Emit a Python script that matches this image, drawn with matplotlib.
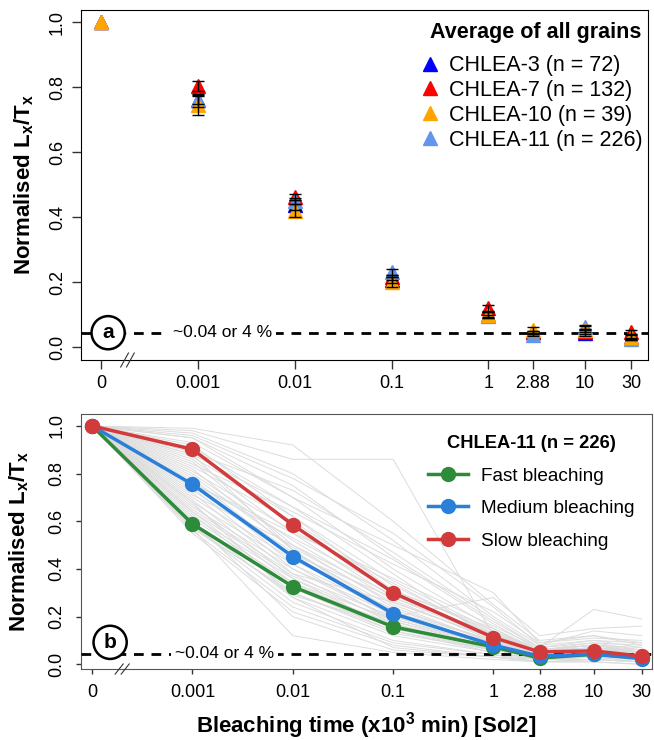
import numpy as np
import matplotlib
matplotlib.use("Agg")
import matplotlib.pyplot as plt
from matplotlib.lines import Line2D

plt.rcParams['font.family'] = ['Liberation Sans', 'DejaVu Sans']
plt.rcParams['mathtext.fontset'] = 'custom'
plt.rcParams['mathtext.rm'] = 'Liberation Sans'
plt.rcParams['mathtext.bf'] = 'Liberation Sans:bold'

# bleaching times (x10^3 min); 0 is drawn one decade left of 0.001
times = [0, 0.001, 0.01, 0.1, 1, 2.88, 10, 30]
time_labels = ['0', '0.001', '0.01', '0.1', '1', '2.88', '10', '30']

# panel a: average of all grains
chlea3 = [1.0, 0.760, 0.437, 0.206, 0.100, 0.045, 0.043, 0.030]
chlea7 = [1.0, 0.803, 0.462, 0.215, 0.120, 0.045, 0.050, 0.046]
chlea10 = [1.0, 0.745, 0.420, 0.200, 0.098, 0.052, 0.052, 0.031]
chlea11 = [1.0, 0.760, 0.450, 0.231, 0.095, 0.037, 0.062, 0.025]
err3 = [0, 0.020, 0.015, 0.010, 0.008, 0.005, 0.008, 0.006]
err7 = [0, 0.015, 0.010, 0.008, 0.010, 0.005, 0.005, 0.005]
err10 = [0, 0.030, 0.020, 0.015, 0.010, 0.010, 0.012, 0.010]
err11 = [0, 0.012, 0.010, 0.008, 0.005, 0.004, 0.006, 0.004]

# panel b: CHLEA-11 groups
fast = [1.0, 0.589, 0.326, 0.157, 0.073, 0.026, 0.042, 0.027]
medium = [1.0, 0.755, 0.452, 0.213, 0.080, 0.034, 0.042, 0.024]
slow = [1.0, 0.902, 0.585, 0.300, 0.112, 0.052, 0.056, 0.034]

grains = [
    [1, 0.99, 0.92, 0.60, 0.25, 0.10, 0.12, 0.08],
    [1, 0.98, 0.86, 0.86, 0.12, 0.06, 0.08, 0.05],
    [1, 0.97, 0.80, 0.52, 0.20, 0.08, 0.10, 0.07],
    [1, 0.95, 0.75, 0.45, 0.18, 0.07, 0.23, 0.19],
    [1, 0.93, 0.70, 0.40, 0.15, 0.05, 0.06, 0.05],
    [1, 0.92, 0.62, 0.35, 0.14, 0.06, 0.07, 0.04],
    [1, 0.90, 0.58, 0.30, 0.12, 0.05, 0.06, 0.04],
    [1, 0.88, 0.66, 0.38, 0.10, 0.04, 0.05, 0.03],
    [1, 0.86, 0.55, 0.28, 0.11, 0.05, 0.05, 0.04],
    [1, 0.85, 0.50, 0.25, 0.09, 0.04, 0.04, 0.03],
    [1, 0.83, 0.60, 0.33, 0.13, 0.06, 0.08, 0.06],
    [1, 0.82, 0.48, 0.22, 0.08, 0.03, 0.05, 0.03],
    [1, 0.80, 0.52, 0.27, 0.10, 0.04, 0.06, 0.05],
    [1, 0.78, 0.45, 0.20, 0.08, 0.04, 0.04, 0.02],
    [1, 0.77, 0.42, 0.18, 0.07, 0.03, 0.04, 0.03],
    [1, 0.75, 0.47, 0.24, 0.09, 0.05, 0.06, 0.04],
    [1, 0.74, 0.40, 0.19, 0.08, 0.03, 0.03, 0.02],
    [1, 0.72, 0.38, 0.17, 0.06, 0.02, 0.04, 0.02],
    [1, 0.70, 0.44, 0.23, 0.10, 0.05, 0.07, 0.05],
    [1, 0.69, 0.36, 0.15, 0.06, 0.03, 0.03, 0.02],
    [1, 0.67, 0.34, 0.16, 0.07, 0.03, 0.05, 0.03],
    [1, 0.66, 0.40, 0.21, 0.09, 0.04, 0.05, 0.04],
    [1, 0.64, 0.32, 0.14, 0.05, 0.02, 0.03, 0.02],
    [1, 0.63, 0.30, 0.13, 0.06, 0.03, 0.04, 0.03],
    [1, 0.62, 0.36, 0.18, 0.08, 0.04, 0.04, 0.03],
    [1, 0.60, 0.28, 0.12, 0.05, 0.02, 0.03, 0.01],
    [1, 0.59, 0.33, 0.17, 0.07, 0.03, 0.04, 0.03],
    [1, 0.58, 0.26, 0.10, 0.04, 0.02, 0.02, 0.01],
    [1, 0.57, 0.30, 0.14, 0.06, 0.03, 0.03, 0.02],
    [1, 0.56, 0.24, 0.09, 0.04, 0.01, 0.02, 0.01],
    [1, 0.55, 0.22, 0.08, 0.03, 0.01, 0.02, 0.01],
    [1, 0.60, 0.20, 0.06, 0.03, 0.01, 0.01, 0.00],
    [1, 0.57, 0.12, 0.05, 0.02, 0.01, 0.01, 0.00],
    [1, 0.68, 0.28, 0.07, 0.03, 0.02, 0.02, 0.01],
    [1, 0.88, 0.48, 0.20, 0.28, 0.12, 0.15, 0.16],
    [1, 0.95, 0.70, 0.50, 0.30, 0.09, 0.11, 0.10],
    [1, 0.76, 0.55, 0.36, 0.16, 0.07, 0.09, 0.06],
    [1, 0.84, 0.64, 0.42, 0.22, 0.09, 0.12, 0.09],
    [1, 0.71, 0.50, 0.29, 0.12, 0.05, 0.07, 0.06],
    [1, 0.65, 0.38, 0.26, 0.11, 0.06, 0.08, 0.07],
    [1, 0.91, 0.66, 0.44, 0.17, 0.06, 0.09, 0.08],
    [1, 0.87, 0.62, 0.31, 0.14, 0.05, 0.07, 0.05],
    [1, 0.81, 0.56, 0.34, 0.12, 0.06, 0.06, 0.04],
    [1, 0.79, 0.49, 0.26, 0.11, 0.04, 0.05, 0.04],
    [1, 0.73, 0.46, 0.28, 0.13, 0.05, 0.06, 0.05],
    [1, 0.68, 0.42, 0.22, 0.10, 0.04, 0.05, 0.03],
    [1, 0.64, 0.37, 0.20, 0.09, 0.03, 0.04, 0.03],
    [1, 0.61, 0.34, 0.19, 0.08, 0.03, 0.04, 0.02],
    [1, 0.58, 0.29, 0.16, 0.07, 0.02, 0.03, 0.02],
    [1, 0.96, 0.78, 0.55, 0.24, 0.08, 0.14, 0.12],
    [1, 0.89, 0.73, 0.47, 0.19, 0.07, 0.10, 0.09],
    [1, 0.76, 0.53, 0.31, 0.15, 0.06, 0.08, 0.05],
]

threshold = 0.044

# x positions: log10 of time, 0 sits at -4
xpos = np.array([-4.0] + [np.log10(t) for t in times[1:]])

fig = plt.figure(figsize=(6.54, 7.4), dpi=100)
ax1 = fig.add_axes([0.1239, 0.5135, 0.867, 0.473])
ax2 = fig.add_axes([0.1239, 0.0959, 0.873, 0.3446])


def style_axis(ax, ticklen, labelpad, fs):
    ax.set_xticks(xpos)
    ax.set_xticklabels(time_labels, fontsize=fs)
    ax.set_yticks([0, 0.2, 0.4, 0.6, 0.8, 1.0])
    ax.set_yticklabels(['0.0', '0.2', '0.4', '0.6', '0.8', '1.0'], rotation=90,
                       va='center', fontsize=fs)
    ax.tick_params(length=ticklen, width=1, pad=labelpad, color='#333333')
    ax.set_ylabel(r'Normalised L$_\mathbf{x}$/T$_\mathbf{x}$', fontsize=16,
                  fontweight='bold')


def break_mark(ax, x):
    for dx in (-0.03, 0.03):
        ax.plot([x + dx - 0.04, x + dx + 0.04], [-0.02, 0.02],
                transform=ax.get_xaxis_transform(), color='#333333', lw=0.8,
                clip_on=False, zorder=6)


def threshold_line(ax, xtext, ycirc, xcirc, letter):
    ax.axhline(threshold, color='black', lw=2, linestyle=(0, (3.5, 2.8)), zorder=4)
    ax.text(xtext, threshold, '~0.04 or 4 %', fontsize=12.5, ha='center', va='center',
            bbox=dict(fc='white', ec='none', pad=3), zorder=5)
    ax.text(xcirc, ycirc, letter, fontsize=15, fontweight='bold', ha='center',
            va='center', zorder=7,
            bbox=dict(boxstyle='circle,pad=0.34', fc='white', ec='black', lw=1.8))


# ---- panel a ----
series = [(chlea3, err3, 'blue', 'CHLEA-3 (n = 72)'),
          (chlea7, err7, 'red', 'CHLEA-7 (n = 132)'),
          (chlea11, err11, '#6495ED', 'CHLEA-11 (n = 226)'),
          (chlea10, err10, 'orange', 'CHLEA-10 (n = 39)')]
threshold_line(ax1, -2.75, threshold, -3.93, 'a')
for vals, err, col, lab in series:
    ax1.plot(xpos, vals, linestyle='none', marker='^', ms=10, color=col, zorder=8)
for vals, err, col, lab in series:
    ax1.errorbar(xpos[1:], vals[1:], yerr=err[1:], fmt='none', ecolor='black',
                 elinewidth=1, capsize=4, capthick=1, zorder=9)
ax1.set_xlim(-4.21, 1.65)
ax1.set_ylim(-0.04, 1.037)
style_axis(ax1, 6.5, 4.5, 13)
ax1.yaxis.set_label_coords(-0.079, 0.5)
break_mark(ax1, -3.73)

legend_order = [series[0], series[1], series[3], series[2]]
handles1 = [Line2D([], [], linestyle='none', marker='^', ms=10, color=c)
            for _, _, c, _ in legend_order]
ax1.text(0.802, 0.935, 'Average of all grains', transform=ax1.transAxes,
         fontsize=15.5, fontweight='bold', ha='center', va='center')
ax1.legend(handles1, [l for _, _, _, l in legend_order], loc='upper left',
           bbox_to_anchor=(0.6, 0.871), frameon=False, fontsize=15.5,
           handlelength=0.8, handletextpad=0.5, labelspacing=0.18,
           borderaxespad=0.0, borderpad=0.0)

# ---- panel b ----
for g in grains:
    ax2.plot(xpos, g, color='#dcdcdc', lw=0.7, zorder=1)
threshold_line(ax2, -2.68, 0.092, -3.82, 'b')
groups = [(fast, '#2E8B3A', 'Fast bleaching'),
          (medium, '#2A7FD8', 'Medium bleaching'),
          (slow, '#D13B3B', 'Slow bleaching')]
for vals, col, lab in groups:
    ax2.plot(xpos, vals, color=col, lw=2.5, marker='o', ms=10, zorder=8, label=lab)
ax2.set_xlim(-4.11, 1.58)
ax2.set_ylim(-0.02, 1.05)
style_axis(ax2, 3.6, 7.5, 13)
for s in ax2.spines.values():
    s.set_color('#555555')
ax2.yaxis.set_label_coords(-0.0875, 0.5)
ax2.set_xlabel(r'Bleaching time (x10$^\mathbf{3}$ min) [Sol2]', fontsize=16,
               fontweight='bold', labelpad=6)
break_mark(ax2, -3.7)
leg2 = ax2.legend(loc='upper right', bbox_to_anchor=(1.0, 0.985), frameon=False,
                  fontsize=13.7, title='CHLEA-11 (n = 226)', handlelength=2.1,
                  handletextpad=0.7, labelspacing=0.8)
leg2.get_title().set_fontweight('bold')
leg2.get_title().set_fontsize(13.2)

fig.savefig('out.png', dpi=100)
